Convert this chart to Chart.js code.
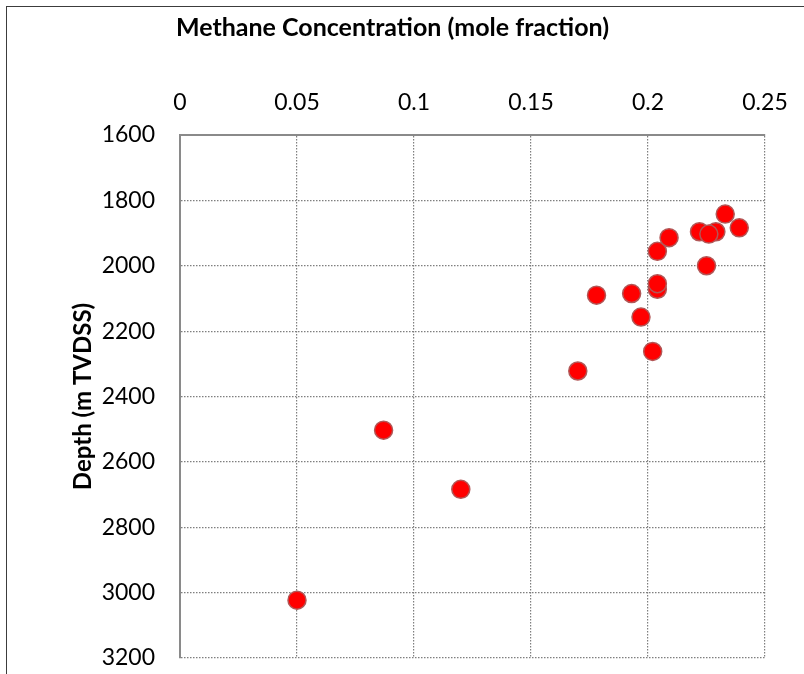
<!DOCTYPE html>
<html>
<head>
<meta charset="utf-8">
<title>Methane concentration vs depth</title>
<script src="https://cdn.jsdelivr.net/npm/chart.js@4.4.1/dist/chart.umd.min.js"></script>
<style>
    html, body { margin: 0; padding: 0; background: #ffffff; }
    #wrap { position: relative; width: 804px; height: 674px; overflow: hidden; }
    #frame {
        position: absolute; left: 6px; top: 6px; width: 900px; height: 800px;
        border-left: 1.5px solid #3c3c3c; border-top: 1.5px solid #3c3c3c;
    }
    #depthChart { position: absolute; left: 0; top: 0; }
</style>
</head>
<body>
<div id="wrap">
    <div id="frame"></div>
    <canvas id="depthChart" width="804" height="674"></canvas>
</div>
<script>
// Methane mole fraction against depth (m TVDSS)
const methane = [0.050, 0.087, 0.120, 0.170, 0.178, 0.193, 0.197, 0.202, 0.204,
                 0.204, 0.204, 0.209, 0.225, 0.222, 0.229, 0.226, 0.233, 0.239];
const depth = [3023, 2503, 2684, 2322, 2090, 2085, 2157, 2262, 2072,
               2055, 1956, 1914, 2000, 1896, 1896, 1903, 1842, 1884];

const xTicks = [0, 0.05, 0.1, 0.15, 0.2, 0.25];
const yTicks = [1600, 1800, 2000, 2200, 2400, 2600, 2800, 3000, 3200];

const fontFamily = "Lato, 'Open Sans', sans-serif";
const gridColor = '#7f7f7f';

document.addEventListener('DOMContentLoaded', function() {
    const ctx = document.getElementById('depthChart');
    const points = methane.map((m, i) => ({ x: m, y: depth[i] }));

    new Chart(ctx, {
        type: 'scatter',
        data: {
            datasets: [{
                label: 'Methane',
                data: points,
                backgroundColor: '#ff0000',
                borderColor: '#b25656',
                borderWidth: 1.5,
                pointRadius: 9,
                pointHoverRadius: 9
            }]
        },
        options: {
            responsive: false,
            animation: false,
            layout: {
                padding: { left: 20, right: 39, top: 0, bottom: 16 }
            },
            plugins: {
                legend: { display: false },
                tooltip: { enabled: false },
                title: {
                    display: true,
                    text: 'Methane Concentration (mole fraction)',
                    color: '#000000',
                    font: { family: fontFamily, size: 25, weight: 'bold' },
                    padding: { top: 13, bottom: 0 }
                }
            },
            scales: {
                x: {
                    type: 'linear',
                    position: 'top',
                    min: 0,
                    max: 0.25,
                    afterBuildTicks: function(scale) {
                        scale.ticks = xTicks.map(v => ({ value: v }));
                    },
                    afterFit: function(scale) {
                        // fixed band under the title; no extra end padding
                        scale.height = 92;
                        scale.paddingLeft = 0;
                        scale.paddingRight = 0;
                    },
                    ticks: {
                        padding: 19,
                        color: '#000000',
                        font: { family: fontFamily, size: 23 },
                        maxRotation: 0,
                        callback: function(value) {
                            return String(+value.toFixed(2));
                        }
                    },
                    grid: {
                        color: gridColor,
                        lineWidth: 1.2,
                        drawTicks: false
                    },
                    border: {
                        display: true,
                        color: '#8a8a8a',
                        width: 2,
                        dash: [1.5, 1.5]
                    }
                },
                y: {
                    type: 'linear',
                    reverse: true,
                    min: 1600,
                    max: 3200,
                    afterBuildTicks: function(scale) {
                        scale.ticks = yTicks.map(v => ({ value: v }));
                    },
                    afterFit: function(scale) {
                        scale.width = 160;
                        scale.paddingTop = 0;
                        scale.paddingBottom = 0;
                    },
                    title: {
                        display: true,
                        text: 'Depth (m TVDSS)',
                        color: '#000000',
                        font: { family: fontFamily, size: 24, weight: 'bold' },
                        padding: { top: 48.6, bottom: 0 }
                    },
                    ticks: {
                        padding: 25,
                        color: '#000000',
                        font: { family: fontFamily, size: 23 },
                        callback: function(value) {
                            return String(value);
                        }
                    },
                    grid: {
                        color: gridColor,
                        lineWidth: 1.2,
                        drawTicks: false
                    },
                    border: {
                        display: true,
                        color: '#8a8a8a',
                        width: 2,
                        dash: [1.5, 1.5]
                    }
                }
            }
        }
    });
});
</script>
</body>
</html>
